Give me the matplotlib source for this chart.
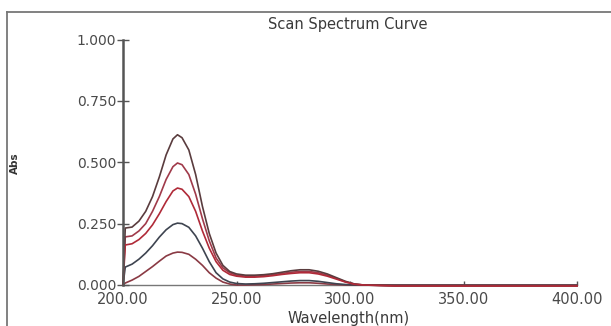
import matplotlib
matplotlib.use("Agg")
import matplotlib.pyplot as plt
from matplotlib.lines import Line2D

# wavelength grid (nm) and absorbance of the five scans
wavelength = [200, 201, 204, 207, 210, 213, 216, 219, 222, 224, 226, 229, 232,
              235, 238, 241, 244, 247, 250, 254, 258, 262, 266, 270, 274, 278,
              282, 286, 290, 294, 298, 302, 306, 320, 350, 380, 400]

abs_a = [0.0, 0.232, 0.236, 0.26, 0.30, 0.36, 0.44, 0.53, 0.595, 0.612, 0.60,
         0.55, 0.45, 0.32, 0.21, 0.13, 0.08, 0.055, 0.045, 0.04, 0.04, 0.042,
         0.046, 0.052, 0.058, 0.062, 0.062, 0.056, 0.045, 0.03, 0.015, 0.004,
         0.0, -0.002, -0.002, -0.002, -0.002]
abs_b = [0.0, 0.196, 0.20, 0.22, 0.25, 0.30, 0.36, 0.43, 0.482, 0.497, 0.49,
         0.45, 0.37, 0.27, 0.18, 0.11, 0.07, 0.05, 0.04, 0.036, 0.036, 0.038,
         0.042, 0.047, 0.052, 0.055, 0.055, 0.05, 0.04, 0.027, 0.013, 0.004,
         0.0, -0.002, -0.002, -0.002, -0.002]
abs_c = [0.0, 0.163, 0.168, 0.185, 0.21, 0.245, 0.29, 0.34, 0.383, 0.395, 0.39,
         0.36, 0.30, 0.22, 0.15, 0.095, 0.06, 0.043, 0.036, 0.032, 0.032, 0.034,
         0.038, 0.043, 0.047, 0.05, 0.05, 0.045, 0.036, 0.024, 0.012, 0.003,
         0.0, -0.004, -0.004, -0.004, -0.004]
abs_d = [0.0, 0.073, 0.085, 0.105, 0.13, 0.16, 0.195, 0.225, 0.246, 0.252, 0.25,
         0.235, 0.20, 0.15, 0.095, 0.05, 0.025, 0.012, 0.006, 0.004, 0.005,
         0.007, 0.01, 0.013, 0.016, 0.018, 0.018, 0.015, 0.01, 0.005, 0.002,
         0.0, 0.0, 0.0, 0.0, 0.0, 0.0]
abs_e = [0.0, 0.008, 0.02, 0.035, 0.055, 0.075, 0.097, 0.118, 0.13, 0.134,
         0.133, 0.125, 0.105, 0.08, 0.05, 0.028, 0.012, 0.004, 0.0, 0.0, 0.001,
         0.002, 0.004, 0.006, 0.008, 0.009, 0.009, 0.007, 0.004, 0.002, 0.0,
         0.0, 0.0, -0.004, -0.004, -0.004, -0.004]

series = [abs_e, abs_d, abs_b, abs_a, abs_c]
colors = ["#8a3a44", "#3e4450", "#a03a4a", "#5a3c3e", "#b02a38"]

x_ticks = [200, 250, 300, 350, 400]
y_ticks = [0.0, 0.25, 0.5, 0.75, 1.0]

fig = plt.figure(figsize=(6.11, 3.26), dpi=100, facecolor="white")
ax = fig.add_axes([123 / 611, 1 - 285 / 326, 454 / 611, 245.5 / 326])

# outer frame of the instrument window
fig.add_artist(Line2D([7 / 611, 7 / 611], [-0.05, 1 - 12 / 326],
                      transform=fig.transFigure, color="#777777", lw=1.3))
fig.add_artist(Line2D([7 / 611, 1.0], [1 - 12 / 326, 1 - 12 / 326],
                      transform=fig.transFigure, color="#777777", lw=1.3))

for ys, c in zip(series, colors):
    ax.plot(wavelength, ys, color=c, lw=1.2, solid_joinstyle="round",
            clip_on=False)

ax.set_xlim(200, 400)
ax.set_ylim(0, 1)
ax.set_xticks(x_ticks)
ax.set_xticklabels([f"{v:.2f}" for v in x_ticks])
ax.set_yticks(y_ticks)
ax.set_yticklabels([f"{v:.3f}" for v in y_ticks])

for side in ("top", "right"):
    ax.spines[side].set_visible(False)
ax.spines["left"].set_color("#555555")
ax.spines["left"].set_linewidth(1.8)
ax.spines["bottom"].set_color("#777777")
ax.spines["bottom"].set_linewidth(1.0)
ax.spines["bottom"].set_zorder(0)

ax.tick_params(axis="y", direction="inout", length=8, width=1.0,
               color="#555555", pad=1, labelsize=10, labelcolor="#4a4a4a")
ax.tick_params(axis="x", direction="in", length=3, width=1.0,
               color="#555555", pad=5, labelsize=10.5, labelcolor="#4a4a4a")

fig.text(348 / 611, 1 - 25 / 326, "Scan Spectrum Curve", ha="center",
         va="center", fontsize=10.5, color="#3a3a3a")
fig.text(349 / 611, 1 - 318 / 326, "Wavelength(nm)", ha="center",
         va="center", fontsize=10.5, color="#3a3a3a")
fig.text(15 / 611, 1 - 163 / 326, "Abs", ha="center", va="center",
         rotation=90, fontsize=7.5, fontweight="bold", color="#333333")

fig.savefig("out.png", dpi=100, facecolor="white")
